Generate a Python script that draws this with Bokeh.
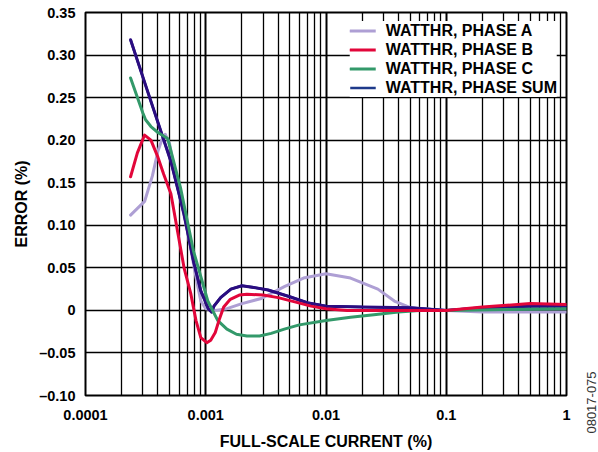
from bokeh.plotting import figure
from bokeh.models import FixedTicker, CustomJSTickFormatter, Legend, LegendItem, Label
from bokeh.layouts import row
from bokeh.embed import file_html
from bokeh.resources import INLINE
import math

# ---- data ----
a_x = [0.000237, 0.00031, 0.00036, 0.00040, 0.00043, 0.00046, 0.00050, 0.00056, 0.00071, 0.00085,
       0.00091, 0.00100, 0.0012, 0.0015, 0.0020, 0.0029, 0.0045, 0.0065, 0.010, 0.016,
       0.027, 0.037, 0.051, 0.10, 0.20, 1.0]
a_y = [0.112, 0.128, 0.158, 0.187, 0.200, 0.207, 0.196, 0.158, 0.090, 0.031,
       0.011, 0.002, 0.000, 0.002, 0.008, 0.014, 0.028, 0.038, 0.043, 0.038,
       0.025, 0.011, 0.003, 0.000, -0.002, -0.002]

b_x = [0.000237, 0.00027, 0.00031, 0.00035, 0.00040, 0.000447, 0.000513, 0.00066, 0.00075, 0.00083,
       0.00091, 0.00102, 0.0011, 0.0012, 0.0013, 0.00141, 0.0016, 0.0019, 0.0022, 0.0030,
       0.0040, 0.0055, 0.0075, 0.010, 0.015, 0.050, 0.10, 0.20, 0.50, 1.0]
b_y = [0.157, 0.185, 0.206, 0.200, 0.180, 0.160, 0.137, 0.050, 0.020, -0.012,
       -0.032, -0.038, -0.035, -0.026, -0.010, 0.004, 0.013, 0.018, 0.019, 0.018,
       0.015, 0.010, 0.005, 0.002, 0.000, 0.000, 0.000, 0.004, 0.008, 0.007]

c_x = [0.000237, 0.00030, 0.000316, 0.00035, 0.00040, 0.000482, 0.000617, 0.00079, 0.00104,
       0.00126, 0.0015, 0.0018, 0.0022, 0.0028, 0.0035, 0.0045, 0.006, 0.010, 0.016,
       0.025, 0.040, 0.060, 0.10, 1.0]
c_y = [0.273, 0.232, 0.224, 0.216, 0.209, 0.202, 0.144, 0.070, 0.011,
       -0.012, -0.022, -0.028, -0.030, -0.030, -0.027, -0.022, -0.017, -0.012, -0.008,
       -0.005, -0.002, 0.000, 0.000, 0.002]

s_x = [0.000237, 0.000329, 0.00040, 0.000513, 0.00066, 0.00079, 0.00091, 0.00105, 0.00112,
       0.00117, 0.00133, 0.00162, 0.0020, 0.0025, 0.0033, 0.005, 0.007, 0.010, 0.020,
       0.050, 0.10, 0.20, 0.50, 1.0]
s_y = [0.318, 0.257, 0.221, 0.175, 0.113, 0.058, 0.023, 0.002, -0.002,
       0.005, 0.015, 0.025, 0.029, 0.027, 0.024, 0.016, 0.009, 0.005, 0.004,
       0.003, 0.000, 0.003, 0.005, 0.005]

series_names = ["WATTHR, PHASE A", "WATTHR, PHASE B", "WATTHR, PHASE C", "WATTHR, PHASE SUM"]
series_colors = ["#AE9FD4", "#E2063A", "#33996A", "#2B0C80"]
sum_legend_color = "#1E3A8A"

x_ticks = [0.0001, 0.001, 0.01, 0.1, 1.0]
x_labels = ["0.0001", "0.001", "0.01", "0.1", "1"]
y_ticks = [-0.10, -0.05, 0.0, 0.05, 0.10, 0.15, 0.20, 0.25, 0.30, 0.35]
y_labels = ["\u20130.10", "\u20130.05", "0", "0.05", "0.10", "0.15", "0.20", "0.25", "0.30", "0.35"]
x_minor = [m * 10.0 ** e for e in range(-4, 0) for m in range(2, 10)]
fig_code = "08017-075"

FONT = "Liberation Sans"

p = figure(width=582, height=452, x_axis_type="log",
           x_range=(x_ticks[0], x_ticks[-1]), y_range=(y_ticks[0], y_ticks[-1]),
           output_backend="svg", toolbar_location=None,
           min_border_left=85, min_border_right=16, min_border_top=12, min_border_bottom=56)

p.background_fill_color = "white"
p.border_fill_color = "white"
p.outline_line_color = "black"
p.outline_line_width = 2

# ticks / formatter
p.xaxis.ticker = FixedTicker(ticks=x_ticks, minor_ticks=x_minor)
p.yaxis.ticker = FixedTicker(ticks=y_ticks)
fmt_code = """
let best = 0;
for (let i = 0; i < tvals.length; i++) {
  if (Math.abs(tvals[i] - tick) < Math.abs(tvals[best] - tick)) best = i;
}
return tlabels[best];
"""
p.xaxis.formatter = CustomJSTickFormatter(args=dict(tvals=x_ticks, tlabels=x_labels), code=fmt_code)
p.yaxis.formatter = CustomJSTickFormatter(args=dict(tvals=y_ticks, tlabels=y_labels), code=fmt_code)

for ax in (p.xaxis, p.yaxis):
    ax.axis_line_color = None
    ax.major_tick_line_color = None
    ax.minor_tick_line_color = None
    ax.major_tick_in = 0
    ax.major_tick_out = 0
    ax.minor_tick_in = 0
    ax.minor_tick_out = 0
    ax.major_label_text_font = FONT
    ax.major_label_text_font_style = "bold"
    ax.major_label_text_font_size = "14.5px"
    ax.major_label_text_color = "black"
    ax.axis_label_text_font = FONT
    ax.axis_label_text_font_style = "bold"
    ax.axis_label_text_font_size = "16px"
    ax.axis_label_text_color = "black"

p.xaxis.major_label_standoff = 14
p.yaxis.major_label_standoff = 10

p.yaxis.axis_label = "ERROR (%)"
p.yaxis.axis_label_standoff = 6
p.xaxis.axis_label = "FULL-SCALE CURRENT (%)"
p.xaxis.axis_label_standoff = 10

# grid
p.xgrid.grid_line_color = "black"
p.xgrid.grid_line_width = 2
p.xgrid.minor_grid_line_color = "black"
p.xgrid.minor_grid_line_width = 1.3
p.ygrid.grid_line_color = "black"
p.ygrid.grid_line_width = 1.5

# curves
rA = p.line(a_x, a_y, line_color=series_colors[0], line_width=3, line_join="round", line_cap="round")
# legend swatch for the sum (drawn beneath the sum curve, which covers it)
rS_leg = p.line(s_x, s_y, line_color=sum_legend_color, line_width=2.6)
rS = p.line(s_x, s_y, line_color=series_colors[3], line_width=3, line_join="round", line_cap="round")
rC = p.line(c_x, c_y, line_color=series_colors[2], line_width=3, line_join="round", line_cap="round")
rB = p.line(b_x, b_y, line_color=series_colors[1], line_width=3, line_join="round", line_cap="round")

legend = Legend(items=[LegendItem(label=series_names[0], renderers=[rA]),
                       LegendItem(label=series_names[1], renderers=[rB]),
                       LegendItem(label=series_names[2], renderers=[rC]),
                       LegendItem(label=series_names[3], renderers=[rS_leg])],
                location="top_right")
legend.margin = 9
legend.padding = 5
legend.spacing = 0
legend.label_standoff = 10
legend.glyph_width = 26
legend.glyph_height = 19
legend.label_height = 19
legend.label_text_font = FONT
legend.label_text_font_style = "bold"
legend.label_text_font_size = "16px"
legend.label_text_color = "black"
legend.border_line_color = None
legend.background_fill_color = "white"
legend.background_fill_alpha = 1.0
p.add_layout(legend)

# narrow side strip carrying the figure code
side = figure(width=16, height=452, x_range=(0, 1), y_range=(0, 452), title=None,
              output_backend="svg", toolbar_location=None,
              min_border=0, min_border_left=0, min_border_right=0, min_border_top=0, min_border_bottom=0)
side.axis.visible = False
side.grid.visible = False
side.outline_line_color = None
side.background_fill_color = "white"
side.border_fill_color = "white"
for fig in (p, side):
    try:
        fig.frame_align = False
    except Exception:
        pass
side.add_layout(Label(x=0.55, y=50, text=fig_code, angle=math.pi / 2,
                      text_font=FONT, text_font_size="13px", text_color="#333333",
                      text_align="center", text_baseline="middle"))

layout = row(p, side, spacing=0)
open("out.html", "w").write(file_html(layout, INLINE))
